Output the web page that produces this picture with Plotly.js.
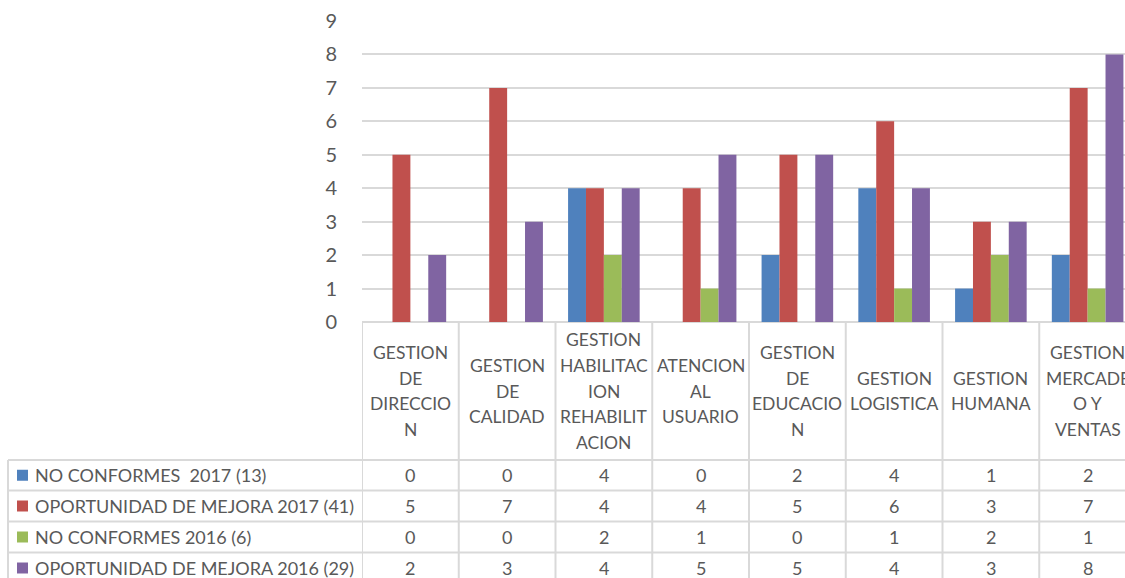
<!DOCTYPE html>
<html>
<head>
<meta charset="utf-8">
<script src="https://cdn.plot.ly/plotly-3.0.1.min.js"></script>
<style>html,body{margin:0;padding:0;background:#fff;}#chart{width:1125px;height:578px;}</style>
</head>
<body>
<div id="chart"></div>
<script>
// ---- data ----
const categories = [
  "GESTION<br>DE<br>DIRECCIO<br>N",
  "GESTION<br>DE<br>CALIDAD",
  "GESTION<br>HABILITAC<br>ION<br>REHABILIT<br>ACION",
  "ATENCION<br>AL<br>USUARIO",
  "GESTION<br>DE<br>EDUCACIO<br>N",
  "GESTION<br>LOGISTICA",
  "GESTION<br>HUMANA",
  "GESTION<br>MERCADE<br>O Y<br>VENTAS"
];
const seriesNames = [
  "NO CONFORMES  2017 (13)",
  "OPORTUNIDAD DE MEJORA 2017 (41)",
  "NO CONFORMES 2016 (6)",
  "OPORTUNIDAD DE MEJORA 2016 (29)"
];
const noConformes2017 = [0, 0, 4, 0, 2, 4, 1, 2];
const oportunidad2017 = [5, 7, 4, 4, 5, 6, 3, 7];
const noConformes2016 = [0, 0, 2, 1, 0, 1, 2, 1];
const oportunidad2016 = [2, 3, 4, 5, 5, 4, 3, 8];
const yTicks = [0, 1, 2, 3, 4, 5, 6, 7, 8, 9];

// ---- styling / layout ----
const colors = ["#4F81BD", "#C0504D", "#9BBB59", "#8064A2"];
const allSeries = [noConformes2017, oportunidad2017, noConformes2016, oportunidad2016];
const W = 1125, H = 578;
const plotL = 362, plotR = 1125, plotT = 21, plotB = 322;
const catW = 96.75;
const txt = "#595959";
const grid = "#D9D9D9";
const FONT = "Lato, 'Open Sans', sans-serif";

const px = x => (x - plotL) / (plotR - plotL);
const py = y => (plotB - y) / (plotB - plotT);

const idx = categories.map((_, i) => i);

const traces = allSeries.map((vals, s) => ({
  type: "bar",
  x: idx,
  y: vals,
  name: seriesNames[s],
  marker: {color: colors[s]},
  hoverinfo: "skip"
}));

const annotations = [];
const shapes = [];

// category labels in header cells
const headerCenter = 391, lineStep = 25.8;
categories.forEach((c, i) => {
  const lines = c.split("<br>");
  lines.forEach((ln, k) => {
    const yc = headerCenter + (k - (lines.length - 1) / 2) * lineStep;
    annotations.push({
      x: i, xref: "x", y: py(yc), yref: "paper",
      text: ln, showarrow: false, xanchor: "center", yanchor: "middle",
      font: {family: FONT, size: 17.5, color: txt}
    });
  });
});

// table rows
const rowLines = [460, 490.5, 521.5, 552.5, 583.5];
allSeries.forEach((vals, s) => {
  const yc = (rowLines[s] + rowLines[s + 1]) / 2;
  // legend key
  shapes.push({
    type: "rect", xref: "paper", yref: "paper",
    x0: px(17), x1: px(28), y0: py(yc - 5.5), y1: py(yc + 5.5),
    fillcolor: colors[s], line: {width: 0}
  });
  annotations.push({
    x: px(33), xref: "paper", y: py(yc), yref: "paper",
    text: seriesNames[s].replace(/  /g, " &nbsp;"), showarrow: false,
    xanchor: "left", yanchor: "middle",
    font: {family: FONT, size: 18, color: txt}
  });
  vals.forEach((v, i) => {
    annotations.push({
      x: i, xref: "x", y: py(yc), yref: "paper",
      text: String(v), showarrow: false, xanchor: "center", yanchor: "middle",
      font: {family: FONT, size: 18, color: txt}
    });
  });
});

// table grid lines
rowLines.slice(0, 4).forEach(yl => {
  shapes.push({type: "line", xref: "paper", yref: "paper",
    x0: px(8), x1: px(1125), y0: py(yl), y1: py(yl),
    line: {color: grid, width: 2}});
});
shapes.push({type: "line", xref: "paper", yref: "paper",
  x0: px(8), x1: px(8), y0: py(460), y1: py(578),
  line: {color: grid, width: 2}});
for (let i = 0; i <= categories.length; i++) {
  shapes.push({type: "line", xref: "x", yref: "paper",
    x0: i - 0.5, x1: i - 0.5, y0: py(322), y1: py(578),
    line: {color: grid, width: 2}});
}

const layout = {
  width: W, height: H,
  margin: {l: plotL, r: W - plotR, t: plotT, b: H - plotB, pad: 0},
  paper_bgcolor: "#fff", plot_bgcolor: "#fff",
  showlegend: false,
  barmode: "group",
  bargap: 0.26,
  bargroupgap: 0,
  xaxis: {
    type: "linear",
    range: [-0.5, -0.5 + (plotR - plotL) / catW],
    showticklabels: false, showgrid: false, zeroline: false,
    showline: false, ticks: "", fixedrange: true
  },
  yaxis: {
    range: [0, 9],
    tickvals: yTicks,
    ticktext: yTicks.map(String),
    showgrid: true, gridcolor: grid, gridwidth: 2,
    zeroline: true, zerolinecolor: grid, zerolinewidth: 2,
    showline: false,
    ticks: "outside", ticklen: 20, tickcolor: "rgba(0,0,0,0)",
    tickfont: {family: FONT, size: 20, color: txt},
    fixedrange: true
  },
  shapes: shapes,
  annotations: annotations,
  font: {family: FONT, color: txt}
};

Plotly.newPlot("chart", traces, layout, {displayModeBar: false, staticPlot: true});
</script>
</body>
</html>
